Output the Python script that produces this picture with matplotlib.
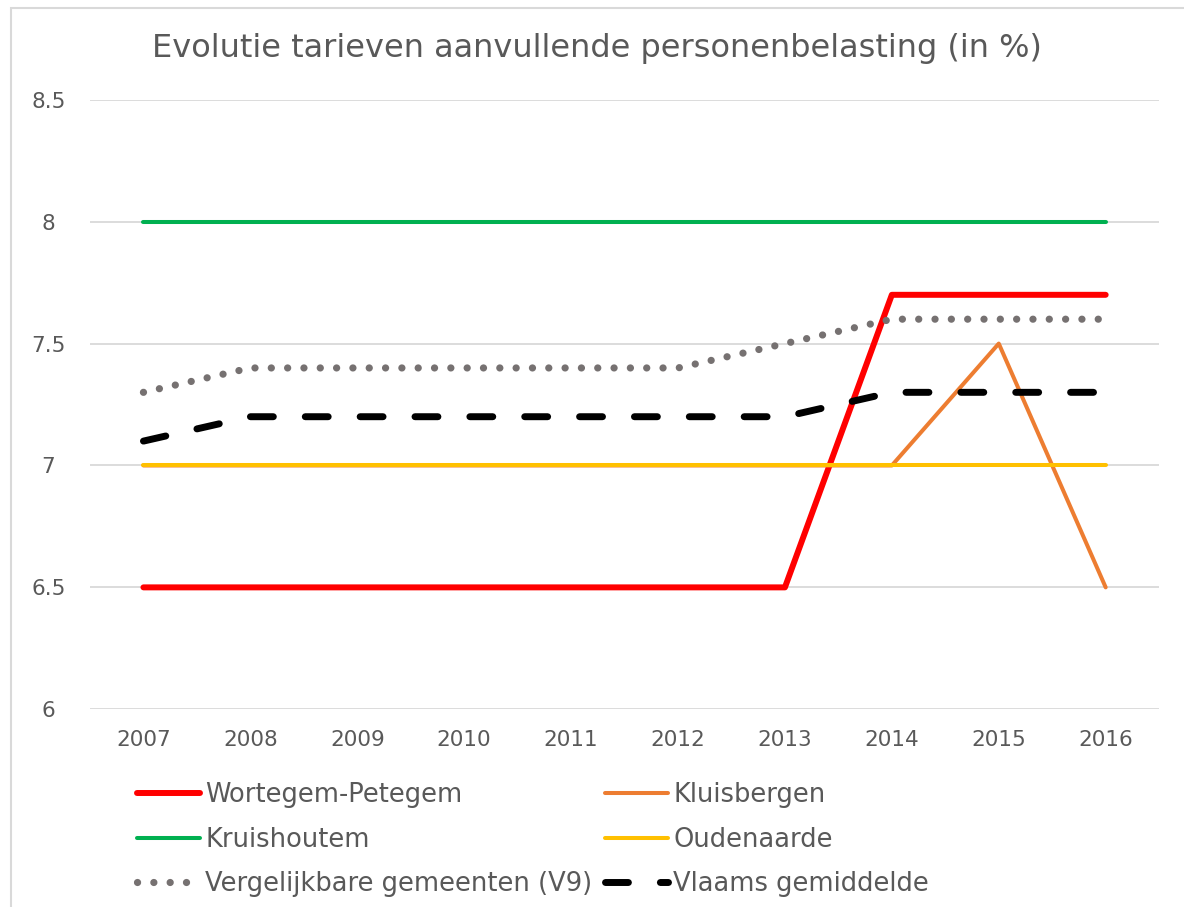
import matplotlib.pyplot as plt
from matplotlib.patches import Rectangle

plt.rcParams["font.family"] = ["DejaVu Sans"]

# data
jaren = ["2007", "2008", "2009", "2010", "2011", "2012", "2013", "2014", "2015", "2016"]
wortegem = [6.5, 6.5, 6.5, 6.5, 6.5, 6.5, 6.5, 7.7, 7.7, 7.7]
kluisbergen = [7.0, 7.0, 7.0, 7.0, 7.0, 7.0, 7.0, 7.0, 7.5, 6.5]
kruishoutem = [8.0, 8.0, 8.0, 8.0, 8.0, 8.0, 8.0, 8.0, 8.0, 8.0]
oudenaarde = [7.0, 7.0, 7.0, 7.0, 7.0, 7.0, 7.0, 7.0, 7.0, 7.0]
v9 = [7.3, 7.4, 7.4, 7.4, 7.4, 7.4, 7.5, 7.6, 7.6, 7.6]
vlaams = [7.1, 7.2, 7.2, 7.2, 7.2, 7.2, 7.2, 7.3, 7.3, 7.3]
y_ticks = [6, 6.5, 7, 7.5, 8, 8.5]
y_labels = ["6", "6.5", "7", "7.5", "8", "8.5"]

tekst = "#595959"

fig = plt.figure(figsize=(11.84, 9.07), dpi=100)
ax = fig.add_axes([0.076, 0.218, 0.903, 0.672])

x = range(len(jaren))
l_wo, = ax.plot(x, wortegem, color="#FF0000", lw=4.3, solid_capstyle="round", label="Wortegem-Petegem")
l_kl, = ax.plot(x, kluisbergen, color="#ED7D31", lw=2.9, solid_capstyle="round", label="Kluisbergen")
l_kr, = ax.plot(x, kruishoutem, color="#00B050", lw=2.9, solid_capstyle="round", label="Kruishoutem")
l_ou, = ax.plot(x, oudenaarde, color="#FFC000", lw=2.9, solid_capstyle="round", label="Oudenaarde")
l_v9, = ax.plot(x, v9, color="#767171", lw=5.2, dashes=(0.01, 2.25), dash_capstyle="round",
                label="Vergelijkbare gemeenten (V9)")
l_vl, = ax.plot(x, vlaams, color="black", lw=5, dashes=(3.3, 4.6), dash_capstyle="round",
                label="Vlaams gemiddelde")

ax.set_xlim(-0.5, len(jaren) - 0.5)
ax.set_ylim(6, 8.5)
ax.set_xticks(list(x))
ax.set_xticklabels(jaren)
ax.set_yticks(y_ticks)
ax.set_yticklabels(y_labels)
ax.tick_params(axis="both", length=0, labelsize=15.5, colors=tekst)
ax.tick_params(axis="x", pad=15)
ax.tick_params(axis="y", pad=30)
for t in ax.get_yticklabels():
    t.set_horizontalalignment("center")
ax.grid(axis="y", color="#D9D9D9", lw=1.3)
ax.set_axisbelow(True)
for s in ax.spines.values():
    s.set_visible(False)

fig.text(0.504, 0.947, "Evolutie tarieven aanvullende personenbelasting (in %)",
         ha="center", va="center", fontsize=23, color=tekst)

# legenda rij per rij, zoals in Excel
handles = [l_wo, l_kr, l_v9, l_kl, l_ou, l_vl]
leg = fig.legend(handles=handles, loc="upper left", bbox_to_anchor=(0.1157, 0.1375), ncol=2,
                 frameon=False, fontsize=18.5, handlelength=2.45, handletextpad=0.2,
                 columnspacing=0.5, labelspacing=0.71, borderaxespad=0, borderpad=0)
for t in leg.get_texts():
    t.set_color(tekst)

# rand rond de grafiek
fig.patches.append(Rectangle((11 / 1184, -0.05), 1.2, 1 - 8 / 907 + 0.05, transform=fig.transFigure,
                             fill=False, edgecolor="#D9D9D9", lw=1.5))

fig.savefig("out.png", dpi=100)
